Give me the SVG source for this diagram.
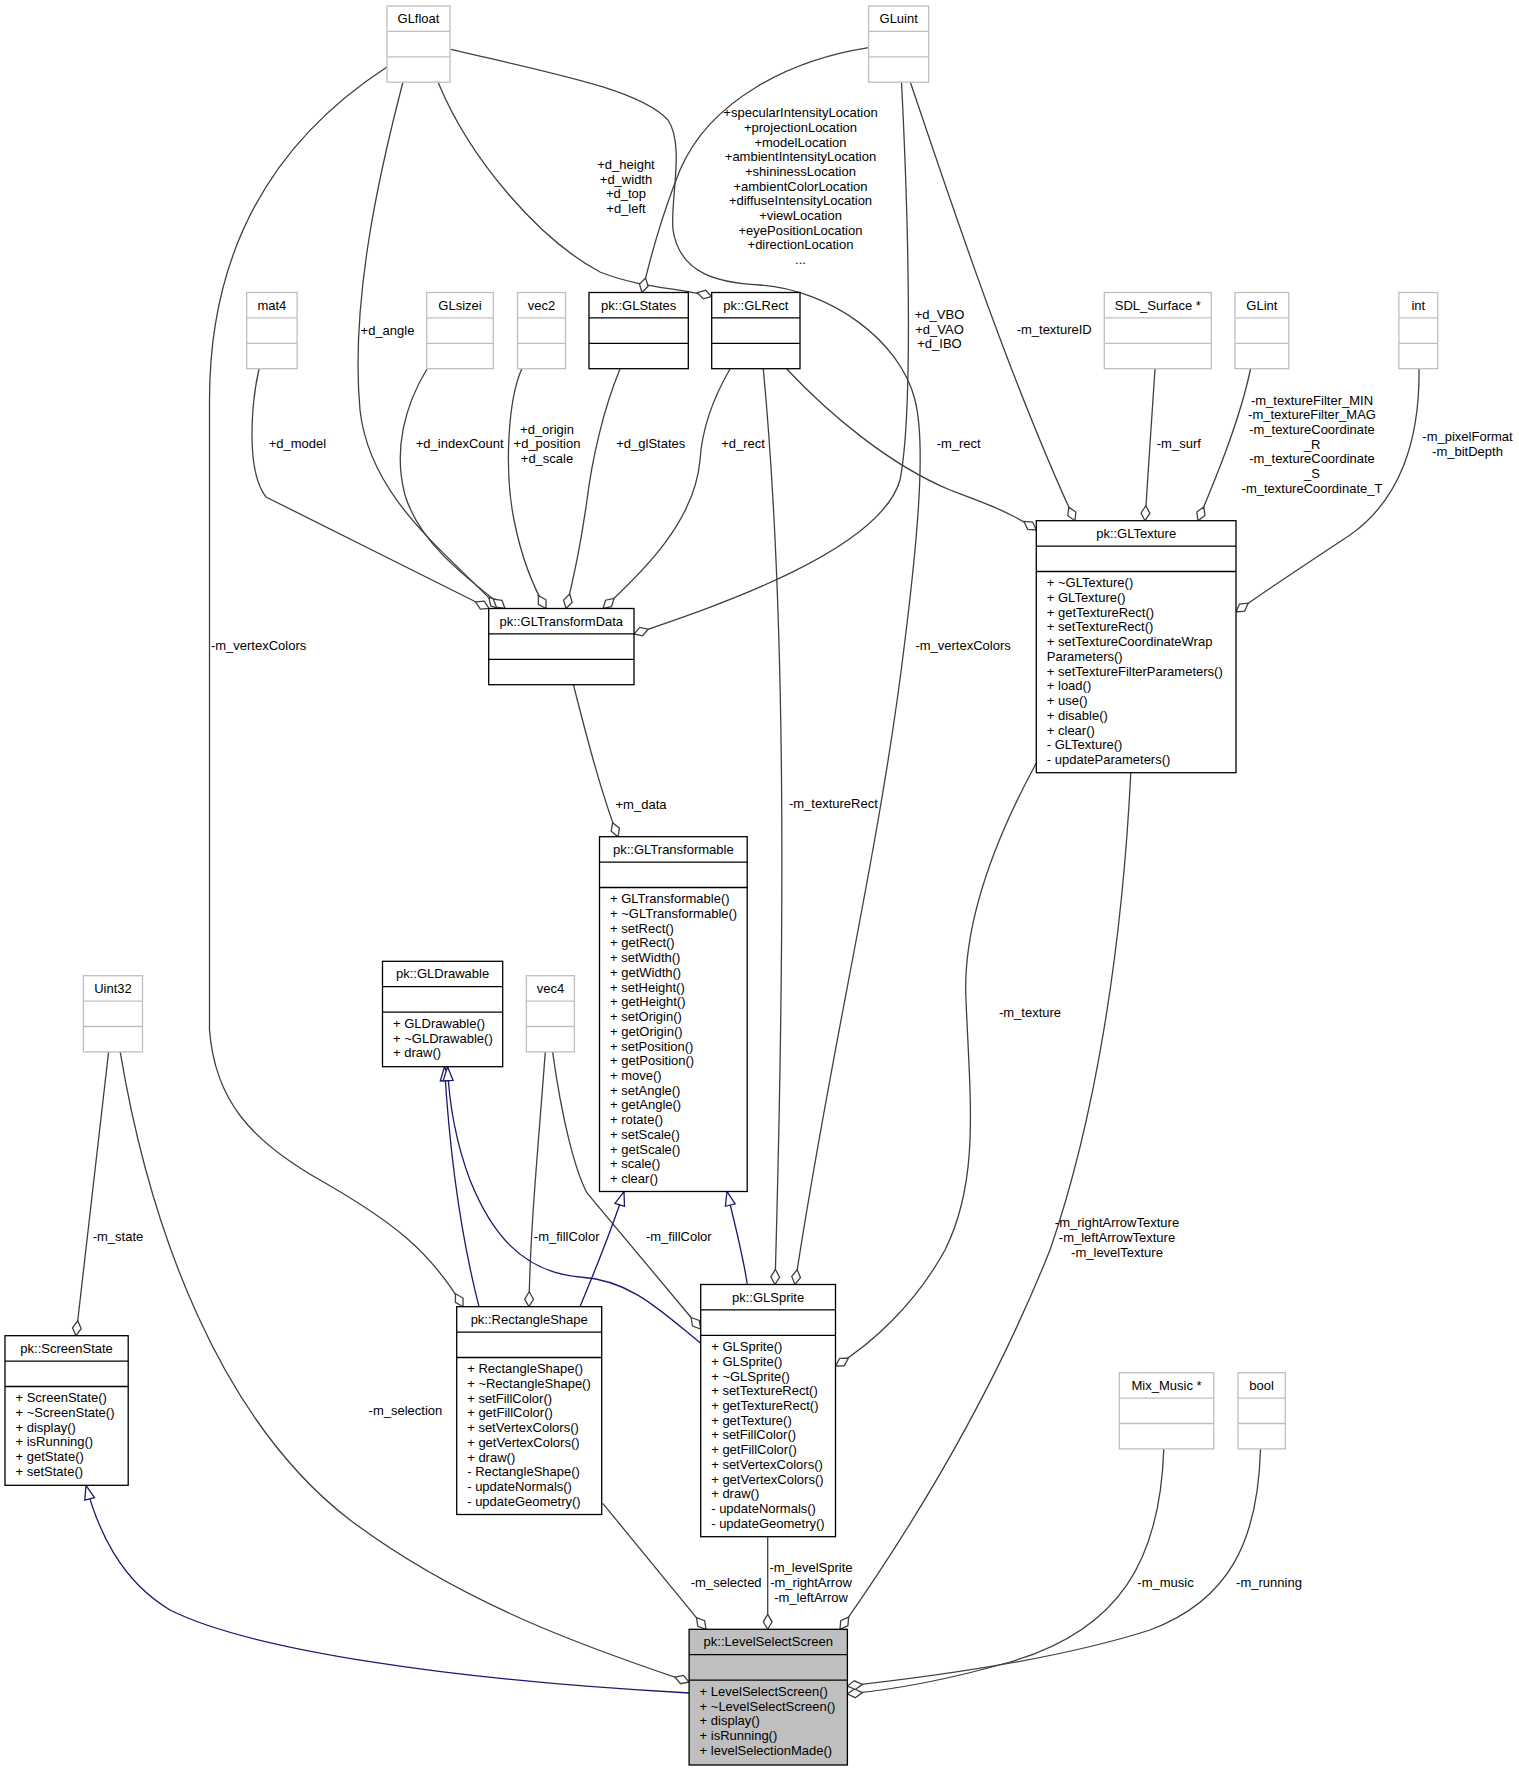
<svg xmlns="http://www.w3.org/2000/svg" width="1519" height="1771" viewBox="0 0 1519 1771">
<style>
.bx{fill:#fff;stroke:#000;stroke-width:1.3}
.ex{fill:#fff;stroke:#bfbfbf;stroke-width:1.3}
.cu{fill:#bfbfbf;stroke:#000;stroke-width:1.3}
.ln{stroke:#000;stroke-width:1.3}
.lg{stroke:#bfbfbf;stroke-width:1.3}
text{font-family:"Liberation Sans",Arial,Helvetica,sans-serif;font-size:13px;fill:#000}
.c{text-anchor:middle}
.e{fill:none;stroke:#404040;stroke-width:1.3}
.i{fill:none;stroke:#191970;stroke-width:1.3}
</style>
<defs>
<marker id="dia" markerUnits="userSpaceOnUse" markerWidth="18" markerHeight="12" viewBox="0 0 18 12" refX="16.5" refY="6" orient="auto"><path d="M1.5,6 L9,1.6 L16.5,6 L9,10.4 Z" fill="#fff" stroke="#404040" stroke-width="1.3"/></marker>
<marker id="tri" markerUnits="userSpaceOnUse" markerWidth="17" markerHeight="13" viewBox="0 0 17 13" refX="15.5" refY="6.5" orient="auto"><path d="M1.5,1.5 L15.5,6.5 L1.5,11.5 Z" fill="#fff" stroke="#191970" stroke-width="1.3"/></marker>
</defs>
<rect width="1519" height="1771" fill="#fff"/>

<g id="connectors">
<path class="e" marker-end="url(#dia)" d="M403,82 C380,170 350,300 360,410 C370,500 450,555 499,608.5"/>
<path class="e" marker-end="url(#dia)" d="M427,369 C405,405 393,450 405,495 C420,545 470,580 505,608.5"/>
<path class="e" marker-end="url(#dia)" d="M387,67 C290,130 209.5,230 209.5,400 L209.5,1030 C215,1100 250,1140 320,1180 C390,1220 430,1250 463,1306.7"/>
<path class="e" marker-end="url(#dia)" d="M450.8,49.3 C560,75 640,90 668,120 C685,145 670,200 673,230 C680,275 720,283 760,285 C830,290 900,340 915,400 C925,440 920,520 905,640 C880,850 830,1050 795,1284.5"/>
<path class="e" marker-end="url(#dia)" d="M438,82 C470,160 540,240 600,272 C640,288 680,288 711.7,296.5"/>
<path class="e" marker-end="url(#dia)" d="M868.6,47.7 C790,60 710,100 680,170 C660,220 650,260 642,292.5"/>
<path class="e" marker-end="url(#dia)" d="M259,369 C252,400 245,470 266,497 L489,608.5"/>
<path class="e" marker-end="url(#dia)" d="M521.7,369 C508,400 504,470 514,520 C522,560 535,590 546,608.5"/>
<path class="e" marker-end="url(#dia)" d="M620,369 C603,410 592,460 587,500 C580,550 572,585 566,608.5"/>
<path class="e" marker-end="url(#dia)" d="M730,369 C712,400 702,430 700,460 C695,520 645,570 603,608.5"/>
<path class="e" marker-end="url(#dia)" d="M901.5,82 C910,250 912,420 900,480 C880,550 720,605 634,634"/>
<path class="e" marker-end="url(#dia)" d="M910.3,82 C950,200 1010,380 1075,520.7"/>
<path class="e" marker-end="url(#dia)" d="M786.7,369 C830,415 890,465 950,490 C990,505 1012,513 1036.3,530"/>
<path class="e" marker-end="url(#dia)" d="M763.3,369 C785,600 786,900 775,1284.5"/>
<path class="e" marker-end="url(#dia)" d="M1155,369 C1152,420 1148,470 1145,520.7"/>
<path class="e" marker-end="url(#dia)" d="M1250.5,369 C1240,420 1215,480 1198,520.7"/>
<path class="e" marker-end="url(#dia)" d="M1419,369 C1420,440 1400,500 1350,535 C1300,568 1262,593 1236,612"/>
<path class="e" marker-end="url(#dia)" d="M573.4,684.7 C585,730 600,790 618,836.7"/>
<path class="e" marker-end="url(#dia)" d="M1036.3,763 C1000,830 962,920 966,1000 C970,1100 980,1180 945,1250 C915,1305 870,1345 835.5,1366"/>
<path class="e" marker-end="url(#dia)" d="M1130.8,773 C1122,950 1095,1120 1050,1250 C990,1400 910,1530 840,1629.3"/>
<path class="e" marker-end="url(#dia)" d="M767.7,1536.7 L767.7,1629.3"/>
<path class="e" marker-end="url(#dia)" d="M602.7,1503.3 L706,1629.3"/>
<path class="e" marker-end="url(#dia)" d="M120.2,1051.9 C150,1230 220,1420 350,1520 C470,1610 610,1655 689.1,1682"/>
<path class="e" marker-end="url(#dia)" d="M108.6,1051.9 L76,1335.7"/>
<path class="e" marker-end="url(#dia)" d="M1163.8,1448.9 C1160,1560 1120,1630 1010,1662 C940,1682 890,1690 847.4,1694"/>
<path class="e" marker-end="url(#dia)" d="M1260.5,1448.9 C1258,1540 1230,1600 1150,1630 C1050,1662 920,1678 847.4,1686"/>
<path class="e" marker-end="url(#dia)" d="M545.3,1051.9 C538,1150 530,1230 529,1306.7"/>
<path class="e" marker-end="url(#dia)" d="M552.6,1051.9 C562,1120 575,1170 587,1193 L700.7,1329"/>
<path class="i" marker-end="url(#tri)" d="M479,1306.7 C462,1240 450,1160 444.5,1066.7"/>
<path class="i" marker-end="url(#tri)" d="M700.7,1343.3 C660,1310 630,1280 580,1277 C520,1272 490,1230 470,1180 C455,1140 449,1100 447.5,1066.7"/>
<path class="i" marker-end="url(#tri)" d="M580,1306.7 C595,1270 610,1235 624,1191.5"/>
<path class="i" marker-end="url(#tri)" d="M747.3,1284.5 C743,1255 735,1225 727,1191.5"/>
<path class="i" marker-end="url(#tri)" d="M689.1,1693 C450,1680 250,1650 170,1610 C120,1580 98,1530 86,1485.3"/>
<g id="edge-labels">
<text class="c" x="387.5" y="334.5">+d_angle</text>
<text class="c" x="297.4" y="448">+d_model</text>
<text class="c" x="459.7" y="448">+d_indexCount</text>
<text class="c" x="547" y="433.5">+d_origin<tspan x="547" dy="14.7">+d_position</tspan><tspan x="547" dy="14.7">+d_scale</tspan></text>
<text class="c" x="650.8" y="448">+d_glStates</text>
<text class="c" x="743" y="448">+d_rect</text>
<text class="c" x="626" y="168.8">+d_height<tspan x="626" dy="14.7">+d_width</tspan><tspan x="626" dy="14.7">+d_top</tspan><tspan x="626" dy="14.7">+d_left</tspan></text>
<text class="c" x="800.5" y="117.2">+specularIntensityLocation<tspan x="800.5" dy="14.7">+projectionLocation</tspan><tspan x="800.5" dy="14.7">+modelLocation</tspan><tspan x="800.5" dy="14.7">+ambientIntensityLocation</tspan><tspan x="800.5" dy="14.7">+shininessLocation</tspan><tspan x="800.5" dy="14.7">+ambientColorLocation</tspan><tspan x="800.5" dy="14.7">+diffuseIntensityLocation</tspan><tspan x="800.5" dy="14.7">+viewLocation</tspan><tspan x="800.5" dy="14.7">+eyePositionLocation</tspan><tspan x="800.5" dy="14.7">+directionLocation</tspan><tspan x="800.5" dy="14.7">...</tspan></text>
<text class="c" x="939.5" y="318.8">+d_VBO<tspan x="939.5" dy="14.7">+d_VAO</tspan><tspan x="939.5" dy="14.7">+d_IBO</tspan></text>
<text class="c" x="1054.2" y="333.8">-m_textureID</text>
<text class="c" x="1178.8" y="448">-m_surf</text>
<text class="c" x="1312" y="404.5">-m_textureFilter_MIN<tspan x="1312" dy="14.7">-m_textureFilter_MAG</tspan><tspan x="1312" dy="14.7">-m_textureCoordinate</tspan><tspan x="1312" dy="14.7">_R</tspan><tspan x="1312" dy="14.7">-m_textureCoordinate</tspan><tspan x="1312" dy="14.7">_S</tspan><tspan x="1312" dy="14.7">-m_textureCoordinate_T</tspan></text>
<text class="c" x="1467.5" y="441.2">-m_pixelFormat<tspan x="1467.5" dy="14.7">-m_bitDepth</tspan></text>
<text class="c" x="958.7" y="448">-m_rect</text>
<text class="c" x="258.6" y="650.2">-m_vertexColors</text>
<text class="c" x="963.1" y="650.2">-m_vertexColors</text>
<text class="c" x="641" y="808.5">+m_data</text>
<text class="c" x="833.4" y="808">-m_textureRect</text>
<text class="c" x="1030" y="1017">-m_texture</text>
<text class="c" x="1117" y="1227.2">-m_rightArrowTexture<tspan x="1117" dy="14.7">-m_leftArrowTexture</tspan><tspan x="1117" dy="14.7">-m_levelTexture</tspan></text>
<text class="c" x="118" y="1241">-m_state</text>
<text class="c" x="566.7" y="1241">-m_fillColor</text>
<text class="c" x="678.8" y="1241">-m_fillColor</text>
<text class="c" x="405.4" y="1414.5">-m_selection</text>
<text class="c" x="726.2" y="1587">-m_selected</text>
<text class="c" x="811" y="1572.2">-m_levelSprite<tspan x="811" dy="14.7">-m_rightArrow</tspan><tspan x="811" dy="14.7">-m_leftArrow</tspan></text>
<text class="c" x="1165.5" y="1587">-m_music</text>
<text class="c" x="1269" y="1587">-m_running</text>
</g>
</g>

<g id="GLfloat"><rect class="ex" x="387" y="6" width="63" height="76.2"/><line class="lg" x1="387" y1="31.4" x2="450" y2="31.4"/><line class="lg" x1="387" y1="56.8" x2="450" y2="56.8"/><text class="c" x="418.5" y="23">GLfloat</text></g>
<g id="GLuint"><rect class="ex" x="868.6" y="6" width="60.1" height="76.2"/><line class="lg" x1="868.6" y1="31.4" x2="928.7" y2="31.4"/><line class="lg" x1="868.6" y1="56.8" x2="928.7" y2="56.8"/><text class="c" x="898.7" y="23">GLuint</text></g>
<g id="mat4"><rect class="ex" x="246.7" y="292.5" width="50.4" height="76.2"/><line class="lg" x1="246.7" y1="317.9" x2="297.1" y2="317.9"/><line class="lg" x1="246.7" y1="343.3" x2="297.1" y2="343.3"/><text class="c" x="271.9" y="309.5">mat4</text></g>
<g id="GLsizei"><rect class="ex" x="426.7" y="292.5" width="66.6" height="76.2"/><line class="lg" x1="426.7" y1="317.9" x2="493.3" y2="317.9"/><line class="lg" x1="426.7" y1="343.3" x2="493.3" y2="343.3"/><text class="c" x="460" y="309.5">GLsizei</text></g>
<g id="vec2"><rect class="ex" x="517.5" y="292.5" width="48" height="76.2"/><line class="lg" x1="517.5" y1="317.9" x2="565.5" y2="317.9"/><line class="lg" x1="517.5" y1="343.3" x2="565.5" y2="343.3"/><text class="c" x="541.5" y="309.5">vec2</text></g>
<g id="GLStates"><rect class="bx" x="589" y="292.5" width="99.3" height="76.2"/><line class="ln" x1="589" y1="317.9" x2="688.3" y2="317.9"/><line class="ln" x1="589" y1="343.3" x2="688.3" y2="343.3"/><text class="c" x="638.7" y="309.5">pk::GLStates</text></g>
<g id="GLRect"><rect class="bx" x="711.7" y="292.5" width="88.3" height="76.2"/><line class="ln" x1="711.7" y1="317.9" x2="800" y2="317.9"/><line class="ln" x1="711.7" y1="343.3" x2="800" y2="343.3"/><text class="c" x="755.8" y="309.5">pk::GLRect</text></g>
<g id="SDL_Surface"><rect class="ex" x="1104.3" y="292.5" width="107" height="76.2"/><line class="lg" x1="1104.3" y1="317.9" x2="1211.3" y2="317.9"/><line class="lg" x1="1104.3" y1="343.3" x2="1211.3" y2="343.3"/><text class="c" x="1157.8" y="309.5">SDL_Surface *</text></g>
<g id="GLint"><rect class="ex" x="1235" y="292.5" width="53.8" height="76.2"/><line class="lg" x1="1235" y1="317.9" x2="1288.8" y2="317.9"/><line class="lg" x1="1235" y1="343.3" x2="1288.8" y2="343.3"/><text class="c" x="1261.9" y="309.5">GLint</text></g>
<g id="int"><rect class="ex" x="1398.9" y="292.5" width="38.8" height="76.2"/><line class="lg" x1="1398.9" y1="317.9" x2="1437.7" y2="317.9"/><line class="lg" x1="1398.9" y1="343.3" x2="1437.7" y2="343.3"/><text class="c" x="1418.3" y="309.5">int</text></g>

<g id="GLTransformData"><rect class="bx" x="488.7" y="608.5" width="145.3" height="76.2"/><line class="ln" x1="488.7" y1="633.9" x2="634" y2="633.9"/><line class="ln" x1="488.7" y1="659.3" x2="634" y2="659.3"/><text class="c" x="561.35" y="625.5">pk::GLTransformData</text></g>

<g id="GLTexture"><rect class="bx" x="1036.3" y="520.7" width="199.7" height="252"/><line class="ln" x1="1036.3" y1="546.1" x2="1236" y2="546.1"/><line class="ln" x1="1036.3" y1="571.5" x2="1236" y2="571.5"/><text class="c" x="1136.15" y="537.7">pk::GLTexture</text>
<text x="1046.8" y="587.3">+ ~GLTexture()<tspan x="1046.8" dy="14.72">+ GLTexture()</tspan><tspan x="1046.8" dy="14.72">+ getTextureRect()</tspan><tspan x="1046.8" dy="14.72">+ setTextureRect()</tspan><tspan x="1046.8" dy="14.72">+ setTextureCoordinateWrap</tspan><tspan x="1046.8" dy="14.72">Parameters()</tspan><tspan x="1046.8" dy="14.72">+ setTextureFilterParameters()</tspan><tspan x="1046.8" dy="14.72">+ load()</tspan><tspan x="1046.8" dy="14.72">+ use()</tspan><tspan x="1046.8" dy="14.72">+ disable()</tspan><tspan x="1046.8" dy="14.72">+ clear()</tspan><tspan x="1046.8" dy="14.72">- GLTexture()</tspan><tspan x="1046.8" dy="14.72">- updateParameters()</tspan></text></g>

<g id="GLTransformable"><rect class="bx" x="599.5" y="836.7" width="147.7" height="354.8"/><line class="ln" x1="599.5" y1="862.1" x2="747.2" y2="862.1"/><line class="ln" x1="599.5" y1="887.5" x2="747.2" y2="887.5"/><text class="c" x="673.35" y="853.7">pk::GLTransformable</text>
<text x="610" y="903.3">+ GLTransformable()<tspan x="610" dy="14.72">+ ~GLTransformable()</tspan><tspan x="610" dy="14.72">+ setRect()</tspan><tspan x="610" dy="14.72">+ getRect()</tspan><tspan x="610" dy="14.72">+ setWidth()</tspan><tspan x="610" dy="14.72">+ getWidth()</tspan><tspan x="610" dy="14.72">+ setHeight()</tspan><tspan x="610" dy="14.72">+ getHeight()</tspan><tspan x="610" dy="14.72">+ setOrigin()</tspan><tspan x="610" dy="14.72">+ getOrigin()</tspan><tspan x="610" dy="14.72">+ setPosition()</tspan><tspan x="610" dy="14.72">+ getPosition()</tspan><tspan x="610" dy="14.72">+ move()</tspan><tspan x="610" dy="14.72">+ setAngle()</tspan><tspan x="610" dy="14.72">+ getAngle()</tspan><tspan x="610" dy="14.72">+ rotate()</tspan><tspan x="610" dy="14.72">+ setScale()</tspan><tspan x="610" dy="14.72">+ getScale()</tspan><tspan x="610" dy="14.72">+ scale()</tspan><tspan x="610" dy="14.72">+ clear()</tspan></text></g>

<g id="GLDrawable"><rect class="bx" x="382.5" y="961.3" width="120.2" height="105.4"/><line class="ln" x1="382.5" y1="986.7" x2="502.7" y2="986.7"/><line class="ln" x1="382.5" y1="1012.1" x2="502.7" y2="1012.1"/><text class="c" x="442.6" y="978.3">pk::GLDrawable</text>
<text x="393" y="1027.9">+ GLDrawable()<tspan x="393" dy="14.72">+ ~GLDrawable()</tspan><tspan x="393" dy="14.72">+ draw()</tspan></text></g>

<g id="Uint32"><rect class="ex" x="83.4" y="975.7" width="59.1" height="76.2"/><line class="lg" x1="83.4" y1="1001.1" x2="142.5" y2="1001.1"/><line class="lg" x1="83.4" y1="1026.5" x2="142.5" y2="1026.5"/><text class="c" x="112.95" y="992.7">Uint32</text></g>
<g id="vec4"><rect class="ex" x="526.4" y="975.7" width="48" height="76.2"/><line class="lg" x1="526.4" y1="1001.1" x2="574.4" y2="1001.1"/><line class="lg" x1="526.4" y1="1026.5" x2="574.4" y2="1026.5"/><text class="c" x="550.4" y="992.7">vec4</text></g>

<g id="ScreenState"><rect class="bx" x="5" y="1335.7" width="123.2" height="149.6"/><line class="ln" x1="5" y1="1361.1" x2="128.2" y2="1361.1"/><line class="ln" x1="5" y1="1386.5" x2="128.2" y2="1386.5"/><text class="c" x="66.6" y="1352.7">pk::ScreenState</text>
<text x="15.5" y="1402.3">+ ScreenState()<tspan x="15.5" dy="14.72">+ ~ScreenState()</tspan><tspan x="15.5" dy="14.72">+ display()</tspan><tspan x="15.5" dy="14.72">+ isRunning()</tspan><tspan x="15.5" dy="14.72">+ getState()</tspan><tspan x="15.5" dy="14.72">+ setState()</tspan></text></g>

<g id="RectangleShape"><rect class="bx" x="456.7" y="1306.7" width="145" height="207.8"/><line class="ln" x1="456.7" y1="1332.1" x2="601.7" y2="1332.1"/><line class="ln" x1="456.7" y1="1357.5" x2="601.7" y2="1357.5"/><text class="c" x="529.2" y="1323.7">pk::RectangleShape</text>
<text x="467.2" y="1373.3">+ RectangleShape()<tspan x="467.2" dy="14.72">+ ~RectangleShape()</tspan><tspan x="467.2" dy="14.72">+ setFillColor()</tspan><tspan x="467.2" dy="14.72">+ getFillColor()</tspan><tspan x="467.2" dy="14.72">+ setVertexColors()</tspan><tspan x="467.2" dy="14.72">+ getVertexColors()</tspan><tspan x="467.2" dy="14.72">+ draw()</tspan><tspan x="467.2" dy="14.72">- RectangleShape()</tspan><tspan x="467.2" dy="14.72">- updateNormals()</tspan><tspan x="467.2" dy="14.72">- updateGeometry()</tspan></text></g>

<g id="GLSprite"><rect class="bx" x="700.7" y="1284.5" width="134.8" height="252.2"/><line class="ln" x1="700.7" y1="1309.9" x2="835.5" y2="1309.9"/><line class="ln" x1="700.7" y1="1335.3" x2="835.5" y2="1335.3"/><text class="c" x="768.1" y="1301.5">pk::GLSprite</text>
<text x="711.2" y="1351.1">+ GLSprite()<tspan x="711.2" dy="14.72">+ GLSprite()</tspan><tspan x="711.2" dy="14.72">+ ~GLSprite()</tspan><tspan x="711.2" dy="14.72">+ setTextureRect()</tspan><tspan x="711.2" dy="14.72">+ getTextureRect()</tspan><tspan x="711.2" dy="14.72">+ getTexture()</tspan><tspan x="711.2" dy="14.72">+ setFillColor()</tspan><tspan x="711.2" dy="14.72">+ getFillColor()</tspan><tspan x="711.2" dy="14.72">+ setVertexColors()</tspan><tspan x="711.2" dy="14.72">+ getVertexColors()</tspan><tspan x="711.2" dy="14.72">+ draw()</tspan><tspan x="711.2" dy="14.72">- updateNormals()</tspan><tspan x="711.2" dy="14.72">- updateGeometry()</tspan></text></g>

<g id="Mix_Music"><rect class="ex" x="1119.3" y="1372.7" width="94.5" height="76.2"/><line class="lg" x1="1119.3" y1="1398.1" x2="1213.8" y2="1398.1"/><line class="lg" x1="1119.3" y1="1423.5" x2="1213.8" y2="1423.5"/><text class="c" x="1166.55" y="1389.7">Mix_Music *</text></g>
<g id="bool"><rect class="ex" x="1238" y="1372.7" width="47.3" height="76.2"/><line class="lg" x1="1238" y1="1398.1" x2="1285.3" y2="1398.1"/><line class="lg" x1="1238" y1="1423.5" x2="1285.3" y2="1423.5"/><text class="c" x="1261.65" y="1389.7">bool</text></g>

<g id="LevelSelectScreen"><rect class="cu" x="689.1" y="1629.3" width="158.3" height="135.7"/><line class="ln" x1="689.1" y1="1654.7" x2="847.4" y2="1654.7"/><line class="ln" x1="689.1" y1="1680.1" x2="847.4" y2="1680.1"/><text class="c" x="768.25" y="1646.3">pk::LevelSelectScreen</text>
<text x="699.6" y="1695.9">+ LevelSelectScreen()<tspan x="699.6" dy="14.72">+ ~LevelSelectScreen()</tspan><tspan x="699.6" dy="14.72">+ display()</tspan><tspan x="699.6" dy="14.72">+ isRunning()</tspan><tspan x="699.6" dy="14.72">+ levelSelectionMade()</tspan></text></g>
</svg>
